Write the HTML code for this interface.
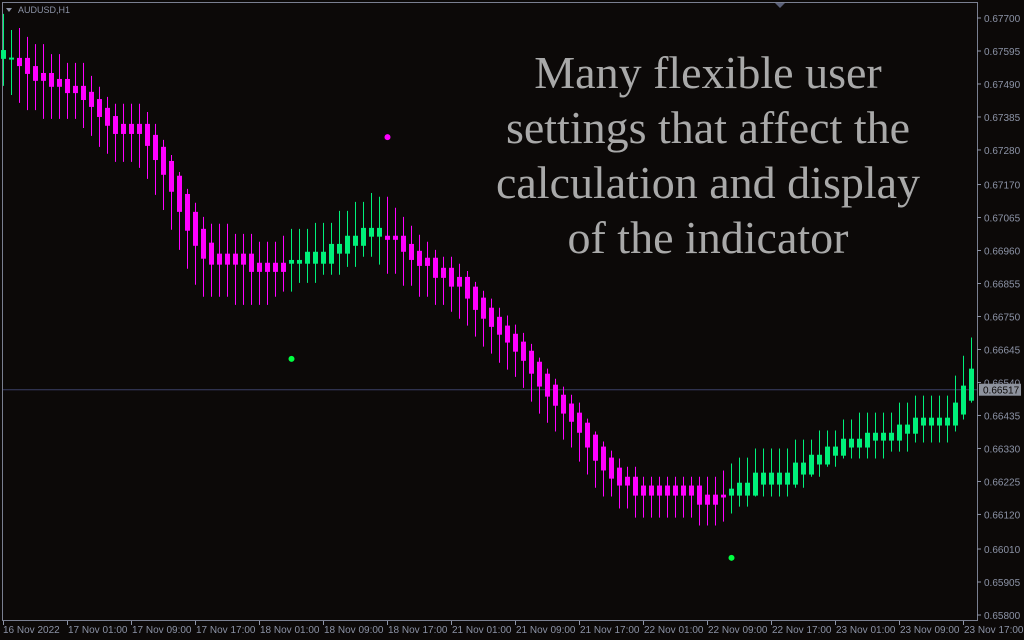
<!DOCTYPE html>
<html><head><meta charset="utf-8">
<style>
html,body{margin:0;padding:0;background:#0c0908;}
#wrap{position:relative;width:1024px;height:640px;overflow:hidden;background:#0c0908;font-family:"Liberation Sans",sans-serif;}
#overlay{position:absolute;left:408px;top:45px;width:600px;text-align:center;color:#a9a9a9;font-family:"Liberation Serif",serif;font-size:46px;line-height:55px;white-space:nowrap;}
</style></head>
<body>
<div id="wrap">
<svg id="chart" width="1024" height="640"></svg>
<div id="overlay">Many flexible user<br>settings that affect the<br>calculation and display<br>of the indicator</div>
</div>
<script>
const opens=[67570,67573,67573,67573,67547,67525,67525,67506,67506,67484,67484,67465,67442,67414,67388,67363,67363,67363,67363,67328,67290,67245,67198,67140,67083,67029,66985,66950,66950,66950,66950,66950,66921,66921,66921,66921,66918,66918,66918,66918,66918,66918,66950,66950,66975,66975,67004,67004,67007,67007,67007,66981,66959,66937,66937,66905,66905,66876,66876,66845,66810,66778,66749,66721,66695,66670,66641,66606,66568,66533,66501,66473,66444,66412,66374,66336,66301,66269,66240,66240,66212,66212,66212,66212,66212,66212,66212,66212,66183,66183,66183,66180,66180,66180,66180,66215,66215,66215,66215,66215,66247,66247,66279,66279,66307,66307,66333,66333,66333,66355,66355,66355,66355,66377,66377,66403,66403,66403,66403,66403,66438,66482];
const closes=[67598,67574,67547,67522,67500,67500,67481,67481,67461,67461,67439,67417,67385,67357,67331,67331,67331,67331,67293,67248,67201,67147,67083,67023,66975,66934,66915,66915,66915,66915,66915,66892,66892,66892,66892,66892,66930,66930,66956,66956,66956,66981,66981,67007,67007,67032,67032,67032,66994,66994,66956,66930,66911,66911,66873,66873,66845,66845,66807,66771,66743,66717,66692,66667,66638,66609,66568,66527,66495,66466,66441,66415,66380,66333,66291,66260,66234,66212,66212,66180,66180,66180,66180,66180,66180,66180,66180,66151,66151,66151,66174,66202,66221,66221,66253,66253,66253,66253,66253,66285,66285,66310,66310,66336,66336,66361,66361,66361,66380,66380,66380,66380,66406,66406,66428,66428,66428,66428,66428,66476,66530,66584];
const highs=[67713,67662,67668,67640,67617,67617,67585,67585,67557,67557,67557,67516,67481,67449,67427,67427,67427,67427,67401,67363,67312,67264,67210,67156,67112,67067,67045,67045,67045,67013,67013,67013,66988,66988,66988,67007,67029,67029,67029,67048,67048,67048,67086,67086,67115,67115,67143,67131,67131,67096,67067,67039,67010,66988,66962,66940,66940,66918,66895,66860,66832,66807,66778,66753,66724,66698,66663,66619,66584,66552,66527,66501,66476,66425,66384,66352,66323,66298,66272,66272,66240,66240,66240,66240,66240,66240,66240,66240,66240,66240,66260,66282,66301,66301,66330,66330,66330,66330,66330,66358,66358,66358,66387,66387,66387,66422,66422,66444,66444,66444,66444,66444,66476,66476,66498,66498,66498,66498,66498,66562,66625,66683];
const lows=[67484,67455,67430,67407,67407,67379,67379,67379,67379,67379,67350,67325,67290,67268,67242,67242,67242,67223,67188,67137,67089,67026,66962,66902,66851,66813,66813,66813,66813,66787,66787,66787,66787,66787,66813,66829,66829,66857,66857,66857,66883,66883,66883,66908,66908,66940,66940,66915,66886,66886,66848,66848,66813,66813,66787,66787,66765,66743,66721,66686,66654,66632,66603,66581,66558,66523,66479,66441,66412,66384,66358,66333,66288,66247,66205,66177,66177,66139,66139,66110,66110,66110,66110,66110,66110,66110,66110,66085,66085,66085,66097,66123,66145,66145,66177,66177,66177,66177,66177,66205,66205,66240,66240,66272,66272,66298,66298,66298,66298,66298,66298,66320,66320,66320,66349,66349,66349,66349,66349,66384,66422,66476];
const priceTicks=[67700,67595,67490,67385,67280,67170,67065,66960,66855,66750,66645,66540,66435,66330,66225,66120,66010,65905,65800];
const timeLabels=["16 Nov 2022","17 Nov 01:00","17 Nov 09:00","17 Nov 17:00","18 Nov 01:00","18 Nov 09:00","18 Nov 17:00","21 Nov 01:00","21 Nov 09:00","21 Nov 17:00","22 Nov 01:00","22 Nov 09:00","22 Nov 17:00","23 Nov 01:00","23 Nov 09:00","23 Nov 17:00"];
const dotIndex=[48,36,91];
const dotPrice=[67321,66615,65982];
const dotBull=[false,true,true];
const currentPrice=66517;

const NS="http://www.w3.org/2000/svg";
const svg=document.getElementById('chart');
function y(p){return 18+(67700-p)*(597/1900);}
function x(i){return 3+8*i;}
function mk(tag,attrs,parent){const e=document.createElementNS(NS,tag);for(const k in attrs)e.setAttribute(k,attrs[k]);(parent||svg).appendChild(e);return e;}
const GREEN="#00f07a",MAG="#ff00ff",AX="#8c93a6";
let f=mk('rect',{x:2.5,y:2.5,width:975,height:618,fill:'none',stroke:'#7a7f90','stroke-width':1});


let cl=mk('line',{x1:3,x2:977,y1:y(currentPrice),y2:y(currentPrice),stroke:'#3b4066','stroke-width':1});


for(let i=0;i<opens.length;i++){
  const bull=closes[i]>=opens[i];const c=bull?GREEN:MAG;const cx=x(i);
  const g=mk('g',{});
  
  
  mk('line',{x1:cx+0.5,x2:cx+0.5,y1:y(highs[i]),y2:y(lows[i]),stroke:c,'stroke-width':1},g);
  const t=y(Math.max(opens[i],closes[i])),b=y(Math.min(opens[i],closes[i]));
  mk('rect',{x:cx-2,y:t,width:5,height:Math.max(2,b-t),fill:c},g);
}
for(let k=0;k<dotIndex.length;k++){
  const d=mk('circle',{cx:x(dotIndex[k])+0.5,cy:y(dotPrice[k]),r:3,fill:dotBull[k]?'#00ff40':MAG});
  
  
}
priceTicks.forEach(p=>{
  const yy=y(p);
  mk('line',{x1:977,x2:981,y1:yy,y2:yy,stroke:AX});
  const t=mk('text',{x:984,y:yy+4,fill:AX,'font-size':'10','font-family':'Liberation Sans, sans-serif'});
  t.textContent='0.'+String(p);
  
  
});
let cy=y(currentPrice);
let box=mk('rect',{x:979,y:cy-6,width:42,height:12,fill:'#8e939e'});


let ct=mk('text',{x:983,y:cy+4,fill:'#0c0908','font-size':'10','font-family':'Liberation Sans, sans-serif'});
ct.textContent='0.'+currentPrice;


timeLabels.forEach((s,k)=>{
  const xx=k===0?3:x(8*k);
  mk('line',{x1:xx+0.5,x2:xx+0.5,y1:621,y2:625,stroke:AX});
  const t=mk('text',{x:xx+(k===0?0:1),y:633,fill:AX,'font-size':'10','font-family':'Liberation Sans, sans-serif'});
  t.textContent=s;
  
  
});
let tri=mk('path',{d:'M6 8 L12 8 L9 12 Z',fill:AX});


let sym=mk('text',{x:18,y:13,fill:AX,'font-size':'9','font-family':'Liberation Sans, sans-serif'});
sym.textContent='AUDUSD,H1';


let sh=mk('path',{d:'M775 3 L785 3 L780 8 Z',fill:'#5a6078'});


</script>
</body></html>
